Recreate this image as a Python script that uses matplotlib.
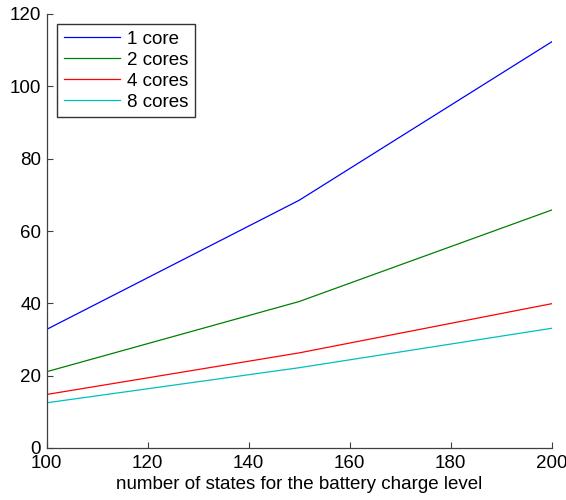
import matplotlib
matplotlib.use("Agg")
import matplotlib.pyplot as plt

plt.rcParams['font.family'] = ['Liberation Sans', 'DejaVu Sans']

states = [100, 150, 200]
core1 = [32.8, 68.5, 112.3]
core2 = [21.1, 40.5, 65.8]
core4 = [14.8, 26.3, 39.9]
core8 = [12.5, 22.2, 33.1]
labels = ["1 core", "2 cores", "4 cores", "8 cores"]
colors = ["#0000ff", "#008000", "#ff0000", "#00bfbf"]

fig = plt.figure(figsize=(5.66, 5.0), dpi=100)
ax = fig.add_axes([0.0825, 0.104, 0.8922, 0.868])

for ys, lab, c in zip([core1, core2, core4, core8], labels, colors):
    ax.plot(states, ys, color=c, linewidth=0.9, label=lab)

ax.set_xlim(100, 200)
ax.set_ylim(0, 120)
ax.set_xticks([100, 120, 140, 160, 180, 200])
ax.set_yticks([0, 20, 40, 60, 80, 100, 120])
ax.tick_params(direction="in", length=4, width=0.8, color="#404040", labelsize=13.5)
ax.tick_params(axis="x", pad=5)
ax.tick_params(axis="y", pad=4)
for side in ["top", "right"]:
    ax.spines[side].set_visible(False)
for side in ["left", "bottom"]:
    ax.spines[side].set_color("#404040")
    ax.spines[side].set_linewidth(0.9)

ax.set_xlabel("number of states for the battery charge level", fontsize=13.5, labelpad=3)

leg = ax.legend(loc="upper left", fontsize=13.5, frameon=True, fancybox=False,
                edgecolor="black", handlelength=3.0, handletextpad=0.4,
                labelspacing=0.2, borderpad=0.35, borderaxespad=0.55)
leg.get_frame().set_linewidth(1.0)

fig.savefig("out.png", dpi=100)
